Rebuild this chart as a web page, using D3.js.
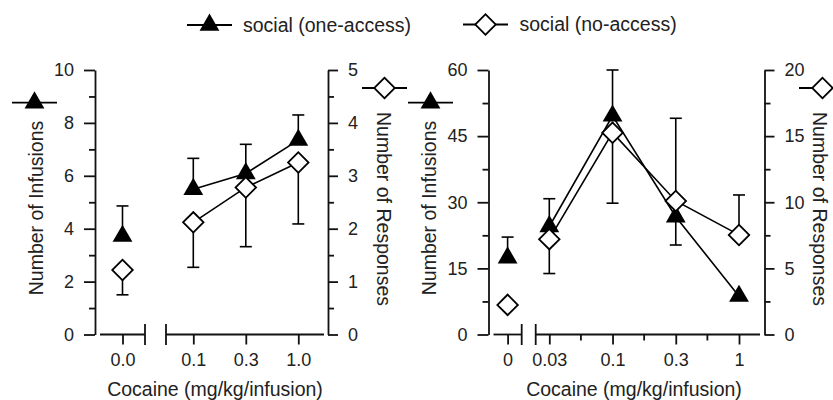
<!DOCTYPE html>
<html>
<head>
<meta charset="utf-8">
<script src="https://cdn.jsdelivr.net/npm/d3@7"></script>
<style>
  body { margin: 0; background: #fff; }
  svg { font-family: "Liberation Sans", Arial, Helvetica, sans-serif; }
  .axis path, .axis line { stroke: #111; stroke-width: 1.8; }
  .axis text { font-size: 18px; fill: #222; font-family: "Liberation Sans", Arial, sans-serif; }
  .title { font-size: 19.5px; fill: #222; }
</style>
</head>
<body>
<svg id="chart" width="833" height="400"></svg>
<script>
// ---- data ----
const seriesNames = ["social (one-access)", "social (no-access)"];
const xTitle = "Cocaine (mg/kg/infusion)";
const yLeftTitle = "Number of Infusions";
const yRightTitle = "Number of Responses";

// left panel (first value = saline control)
const leftControl = ["0.0"];
const leftDoses = ["0.1", "0.3", "1.0"];
const leftInfusions = [3.72, 5.49, 6.09, 7.35];
const leftInfusionsErr = [4.86, 6.66, 7.19, 8.3];
const leftResponses = [1.22, 2.12, 2.78, 3.25];
const leftResponsesErr = [0.75, 1.27, 1.66, 2.09];
const leftInfTicks = [0, 2, 4, 6, 8, 10];
const leftRespTicks = [0, 1, 2, 3, 4, 5];

// right panel
const rightControl = ["0"];
const rightDoses = ["0.03", "0.1", "0.3", "1"];
const rightInfusions = [17.4, 24.5, 49.6, 26.7, 8.7];
const rightInfusionsErr = [22.1, 30.8, 60, 20.3, null];
const rightResponses = [2.24, 7.21, 15.26, 10.1, 7.53];
const rightResponsesErr = [null, 4.61, 9.93, 16.35, 10.55];
const rightInfTicks = [0, 15, 30, 45, 60];
const rightRespTicks = [0, 5, 10, 15, 20];

const svg = d3.select("#chart");

const triangle = d3.symbol(d3.symbolTriangle, 170);
const diamond = d3.symbol(d3.symbolSquare, 210);

const drawMarker = (g, type, x, y) => {
    if (type === "tri") {
        g.append("path").attr("d", triangle())
            .attr("transform", `translate(${x},${y})`)
            .attr("fill", "#000");
    } else {
        g.append("path").attr("d", diamond())
            .attr("transform", `translate(${x},${y}) rotate(45)`)
            .attr("fill", "#fff").attr("stroke", "#000").attr("stroke-width", 1.8);
    }
};

// small legend: line with marker in the middle
const drawKey = (g, type, x1, x2, y) => {
    g.append("line").attr("x1", x1).attr("x2", x2).attr("y1", y).attr("y2", y)
        .attr("stroke", "#000").attr("stroke-width", 1.8);
    drawMarker(g, type, (x1 + x2) / 2, y);
};

const minorOf = ticks => d3.pairs(ticks, (a, b) => (a + b) / 2);

const drawPanel = (p) => {
    const g = svg.append("g");
    const y0 = d3.scaleLinear().domain([0, d3.max(p.infTicks)]).range([p.bottom, p.top]);
    const y1 = d3.scaleLinear().domain([0, d3.max(p.respTicks)]).range([p.bottom, p.top]);
    const xc = d3.scalePoint().domain(p.control).range(p.ctrlAxis);
    const xd = d3.scalePoint().domain(p.doses).range(p.doseRange);
    const xOf = i => i === 0 ? xc(p.control[0]) : xd(p.doses[i - 1]);

    // y axes (minor + major)
    g.append("g").attr("class", "axis").attr("transform", `translate(${p.leftX},0)`)
        .call(d3.axisLeft(y0).tickValues(minorOf(p.infTicks)).tickSize(6).tickFormat(""))
        .call(a => a.select(".domain").remove());
    g.append("g").attr("class", "axis").attr("transform", `translate(${p.leftX},0)`)
        .call(d3.axisLeft(y0).tickValues(p.infTicks).tickFormat(d3.format("d"))
            .tickSize(11).tickSizeOuter(0).tickPadding(10));
    g.append("g").attr("class", "axis").attr("transform", `translate(${p.rightX},0)`)
        .call(d3.axisRight(y1).tickValues(minorOf(p.respTicks)).tickSize(6).tickFormat(""))
        .call(a => a.select(".domain").remove());
    g.append("g").attr("class", "axis").attr("transform", `translate(${p.rightX},0)`)
        .call(d3.axisRight(y1).tickValues(p.respTicks).tickFormat(d3.format("d"))
            .tickSize(10).tickSizeOuter(0).tickPadding(10));

    // broken x axis
    const xa = g.append("g").attr("class", "axis").attr("transform", `translate(0,${p.bottom})`);
    xa.append("g").call(d3.axisBottom(xc).tickSize(10).tickPadding(9))
        .call(a => a.select(".domain").remove());
    xa.append("g").call(d3.axisBottom(xd).tickSize(10).tickPadding(9))
        .call(a => a.select(".domain").remove());
    if (p.doseMinor) {
        xa.append("g").call(d3.axisBottom(xd).tickSize(6).tickFormat("")
            .tickValues(d3.pairs(p.doses, (a, b) => (xd(a) + xd(b)) / 2)))
            .call(a => a.select(".domain").remove())
            .selectAll(".tick").attr("transform", d => `translate(${d},0)`);
    }
    [p.ctrlAxis, p.doseAxis].forEach(r => {
        xa.append("line").attr("x1", r[0]).attr("x2", r[1]);
    });
    [p.ctrlAxis[1], p.doseAxis[0]].forEach(x => {
        xa.append("line").attr("x1", x).attr("x2", x).attr("y1", -10.5).attr("y2", 10.5);
    });

    // titles
    g.append("text").attr("class", "title").attr("text-anchor", "middle")
        .attr("x", p.xTitleX).attr("y", 396).text(xTitle);
    g.append("text").attr("class", "title").attr("text-anchor", "middle")
        .attr("transform", `translate(${p.leftTitleX},208) rotate(-90)`).text(yLeftTitle);
    g.append("text").attr("class", "title").attr("text-anchor", "middle")
        .attr("transform", `translate(${p.rightTitleX},209) rotate(90)`).text(yRightTitle);

    // series: infusions (triangles, left axis) then responses (diamonds, right axis)
    const series = [
        { type: "tri", y: y0, vals: p.inf, err: p.infErr },
        { type: "dia", y: y1, vals: p.resp, err: p.respErr }
    ];
    series.forEach(s => {
        const line = d3.line().x(d => xOf(d[0])).y(d => s.y(d[1]));
        g.append("path")
            .datum(s.vals.map((v, i) => [i, v]).slice(1))
            .attr("d", line)
            .attr("fill", "none").attr("stroke", "#000").attr("stroke-width", 1.6);
        s.err.forEach((e, i) => {
            if (e === null) return;
            const x = xOf(i);
            g.append("line").attr("x1", x).attr("x2", x)
                .attr("y1", s.y(s.vals[i])).attr("y2", s.y(e))
                .attr("stroke", "#000").attr("stroke-width", 1.6);
            g.append("line").attr("x1", x - 6).attr("x2", x + 6)
                .attr("y1", s.y(e)).attr("y2", s.y(e))
                .attr("stroke", "#000").attr("stroke-width", 1.6);
        });
        s.vals.forEach((v, i) => drawMarker(g, s.type, xOf(i), s.y(v)));
    });

    drawKey(g, "tri", p.triKey[0], p.triKey[1], 102.7);
    drawKey(g, "dia", p.diaKey[0], p.diaKey[1], 88);
};

drawPanel({
    top: 70, bottom: 334.5, leftX: 95, rightX: 328,
    control: leftControl, doses: leftDoses,
    ctrlAxis: [100, 145], doseAxis: [166, 324], doseRange: [193.3, 298.3], doseMinor: false,
    inf: leftInfusions, infErr: leftInfusionsErr, resp: leftResponses, respErr: leftResponsesErr,
    infTicks: leftInfTicks, respTicks: leftRespTicks,
    xTitleX: 215, leftTitleX: 43, rightTitleX: 377,
    triKey: [12, 57], diaKey: [362, 407]
});

drawPanel({
    top: 70, bottom: 334.5, leftX: 488.5, rightX: 764.5,
    control: rightControl, doses: rightDoses,
    ctrlAxis: [493.5, 521.7], doseAxis: [535.7, 760], doseRange: [549.3, 739], doseMinor: true,
    inf: rightInfusions, infErr: rightInfusionsErr, resp: rightResponses, respErr: rightResponsesErr,
    infTicks: rightInfTicks, respTicks: rightRespTicks,
    xTitleX: 634, leftTitleX: 436, rightTitleX: 813,
    triKey: [408, 453], diaKey: [799, 846]
});

// top legend
const legend = svg.append("g");
[["tri", 187, 232, 25, 243], ["dia", 463, 508, 24.5, 519.5]].forEach((k, i) => {
    drawKey(legend, k[0], k[1], k[2], k[3]);
    legend.append("text").attr("class", "title")
        .attr("x", k[4]).attr("y", k[3] + 6.5).text(seriesNames[i]);
});
</script>
</body>
</html>
